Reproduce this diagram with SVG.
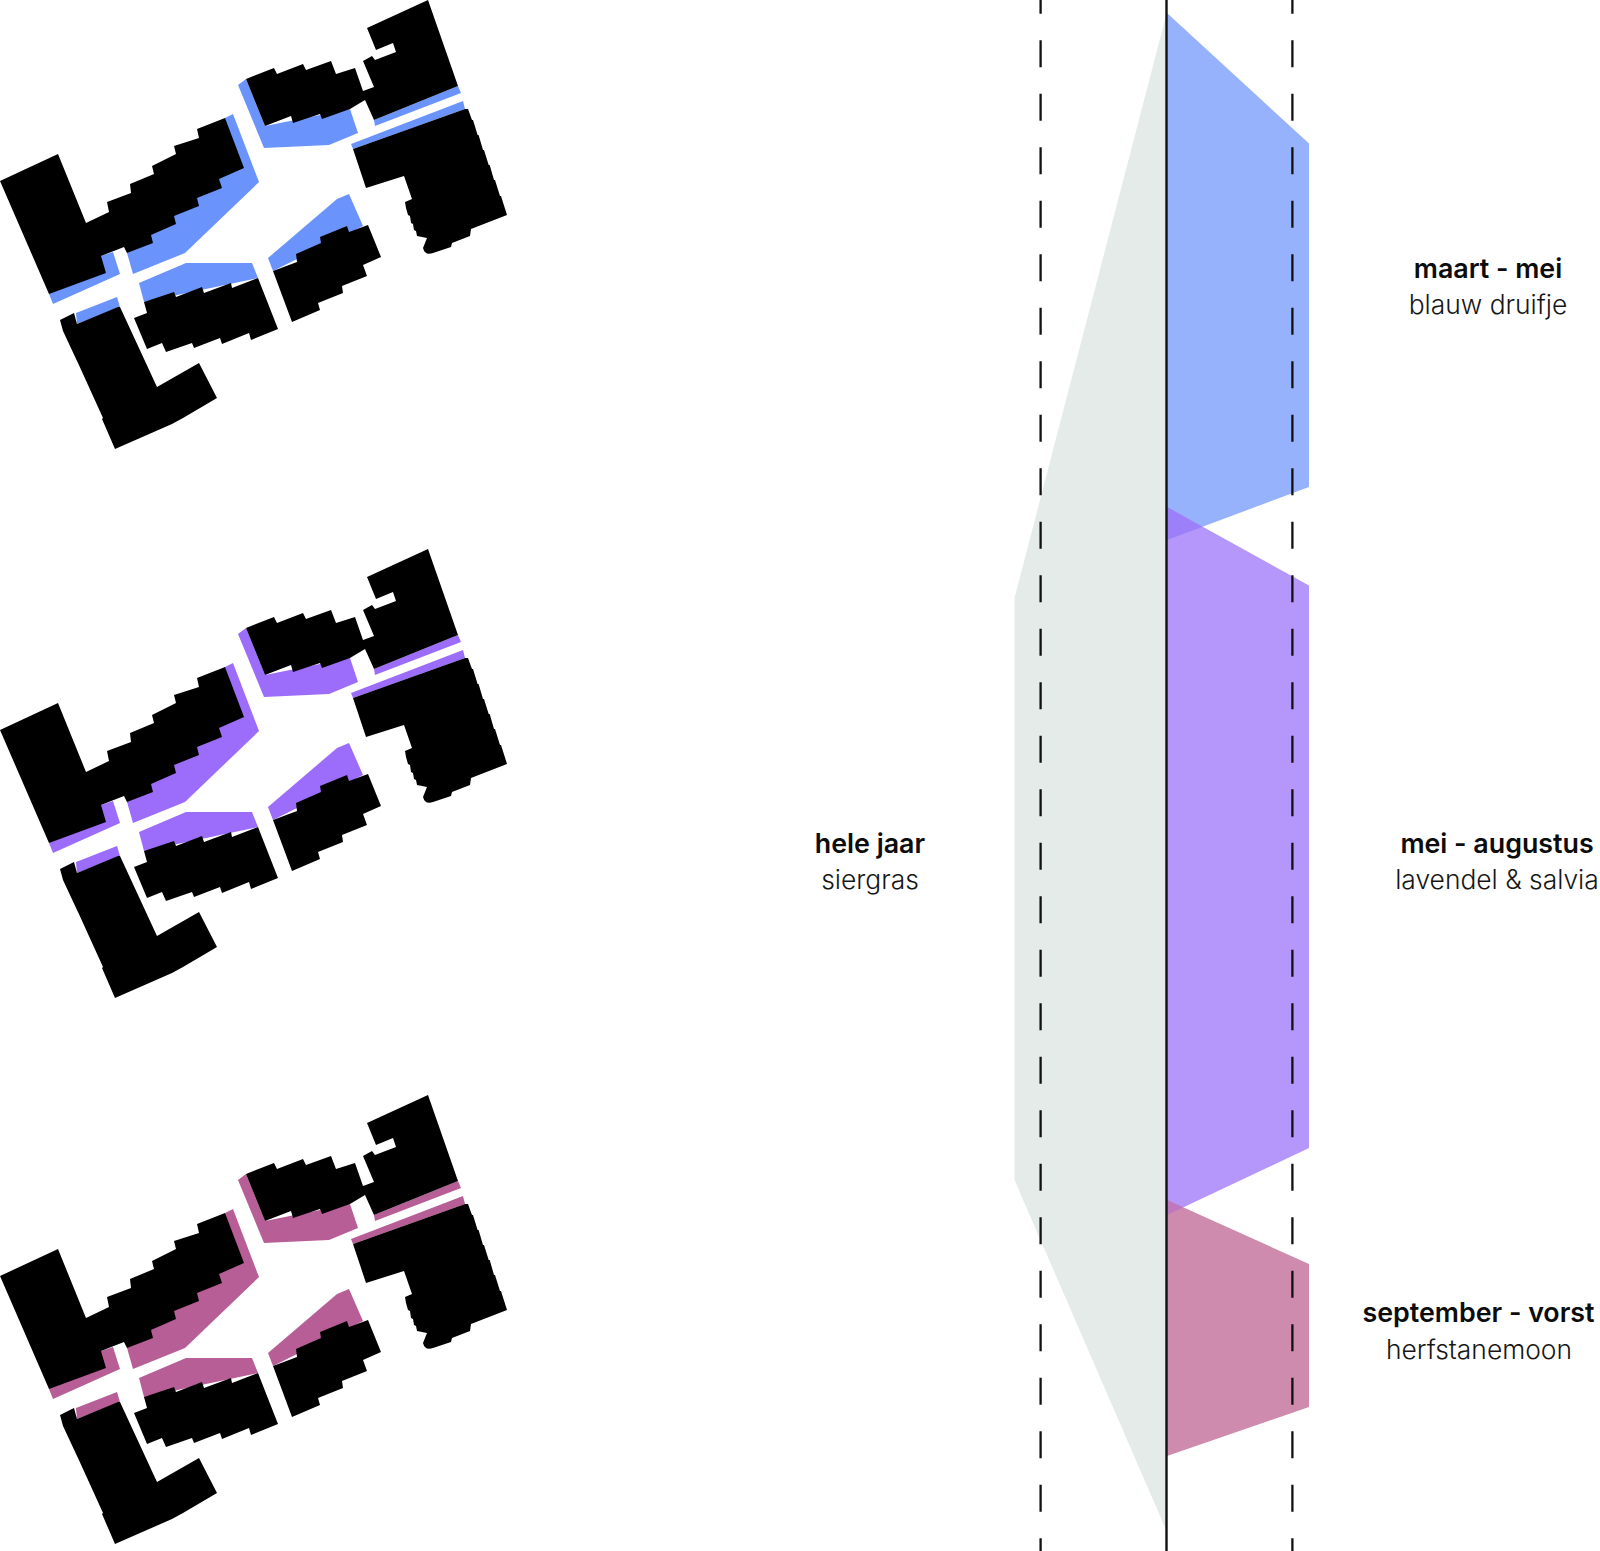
<svg xmlns="http://www.w3.org/2000/svg" width="1600" height="1551" viewBox="0 0 1600 1551">
<style>
text{font-family:"Inter","Liberation Sans",sans-serif;font-size:26.4px;text-anchor:middle;fill:#161616}
.b{font-weight:600;font-size:26.800px;fill:#0c0c0c}
.l{font-weight:300}
.dash{stroke:#111;stroke-width:2.3;fill:none;stroke-dasharray:27 26.5;stroke-dashoffset:13.3}
</style>
<defs>
<g id="buildings" fill="#000">
<path d="M0,181L58,154L86,223L109,212L107,202L131,193L130,184L154,174L152,166L176,154L174,146L199,138L197,129L225,118L244,168L219,179L222,188L197,198L199,206L174,216L176,224L151,235L153,243L127,253L124,247L101,256L106,273L49,294Z"/>
<path d="M60,320L74,313L77,324L118,307L120,307L157,387L199,363L217,398L183,418L172,424L115,449L102,419L103,418L78,363L77,361L63,331Z"/>
<path d="M134,318L147,313L144,302L174,292L176,297L202,287L204,293L231,283L232,288L258,278L278,329L251,340L249,333L222,344L220,338L194,348L192,343L166,352L162,343L147,349Z"/>
<path d="M273,271L297,262L296,254L321,243L320,237L347,226L349,232L368,225L381,257L363,265L367,276L342,286L343,293L318,303L320,310L292,322Z"/>
<path d="M246,79L274,68L277,74L303,64L306,70L331,61L336,74L355,68L363,91L374,87L363,61L372,56L375,60L396,52L393,43L376,50L367,28L428,0L458,86L374,120L365,100L350,109L322,119L320,114L293,123L291,116L265,126Z"/>
<path d="M353,149L465,109L468,109L472,120L473,120L477.600,135L478.600,135L483,150L484,150L488.700,165L489.700,165L494,180L495,180L500,196L501,196L507,215L471,229L470,236L452,243L451,247L433,253Q425,256 423,248L427,238L417,236L416,231L414,230L413,224L411,223L410,216L408,215L406,208L405,202L412,199L404,176L366,188Z"/>
</g>
<g id="beds">
<path d="M225,118L233,114L259,182L185,253L133,274L127,253Z"/>
<path d="M101,256L113,252L120,274L53,304L49,294Z"/>
<path d="M76,313L117,297L120,307L77,324Z"/>
<path d="M139,283L186,263L252,263L258,278L144,302Z"/>
<path d="M268,258L337,199L349,194L363,226L273,271Z"/>
<path d="M238,85L246,79L265,126L350,109L358,133L329,145L264,148Z"/>
<path d="M374,120L458,86L461,93L375,126Z"/>
<path d="M351,144L463,101L465,109L353,149Z"/>
</g>
</defs>
<rect id="background" width="1600" height="1551" fill="#fff"/>
<g id="plan-spring"><use href="#beds" fill="#6a94fb"/><use href="#buildings"/></g>
<g id="plan-summer" transform="translate(0,549)"><use href="#beds" fill="#9b6dfa"/><use href="#buildings"/></g>
<g id="plan-autumn" transform="translate(0,1095)"><use href="#beds" fill="#b85e96"/><use href="#buildings"/></g>
<g id="bands">
<path id="band-grass" d="M1167,12L1014.500,598V1180L1167,1532Z" fill="#e4ebe8"/>
<path id="band-spring" d="M1167,13L1309,143.500V487L1167,540Z" fill="#96b2fc"/>
<path id="band-summer" d="M1167,507L1309,585.500V1148L1167,1215Z" fill="#b596fb"/>
<path id="band-autumn" d="M1167,1200L1309,1264V1407L1167,1456Z" fill="#ce8bae"/>
<path d="M1167,507L1202.600,526.700L1167,540Z" fill="#9b80fa"/>
<path d="M1167,1200L1183.300,1207.300L1167,1215Z" fill="#bf77c0"/>
</g>
<g id="connectors">
<line class="dash" x1="1040.600" y1="0" x2="1040.600" y2="1551"/>
<line class="dash" x1="1292.400" y1="0" x2="1292.400" y2="1551"/>
<line x1="1166.500" y1="0" x2="1166.500" y2="1551" stroke="#111" stroke-width="2.400"/>
</g>
<g id="label-spring"><text class="b" x="1488" y="278">maart - mei</text><text class="l" x="1488" y="314">blauw druifje</text></g>
<g id="label-summer"><text class="b" x="1497" y="853">mei - augustus</text><text class="l" x="1497" y="889">lavendel &amp; salvia</text></g>
<g id="label-grass"><text class="b" x="870" y="853">hele jaar</text><text class="l" x="870" y="889">siergras</text></g>
<g id="label-autumn"><text class="b" x="1478.500" y="1321.500">september - vorst</text><text class="l" x="1479" y="1359">herfstanemoon</text></g>
</svg>
